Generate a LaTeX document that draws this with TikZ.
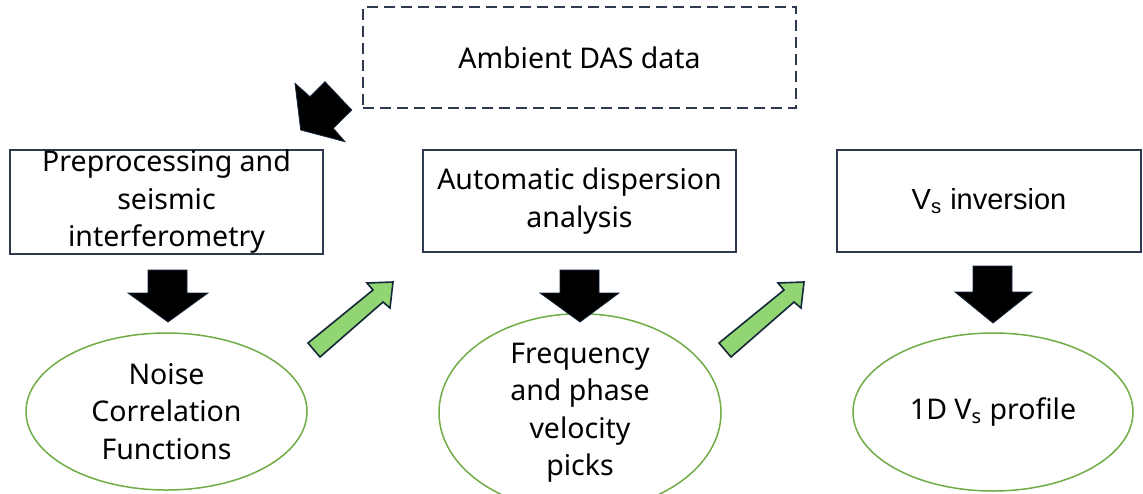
\documentclass[tikz,border=0pt]{standalone}
\usepackage{fontspec}
\setmainfont{Noto Sans}
\newfontfamily\arialfont{Liberation Sans}
\usetikzlibrary{shapes.geometric}
\definecolor{boxline}{RGB}{47,58,78}
\definecolor{ellgreen}{RGB}{112,173,71}
\definecolor{arrowgreen}{RGB}{146,214,115}
\definecolor{arrowline}{RGB}{20,38,58}
\tikzset{
  txt/.style={font=\fontsize{14.25}{18.75}\selectfont, align=center, inner sep=0pt},
  procbox/.style={txt, draw=boxline, line width=0.75pt, rectangle},
  dashbox/.style={txt, draw=boxline, line width=0.75pt, rectangle, dash pattern=on 5.5pt off 3pt},
  resell/.style={txt, draw=ellgreen, line width=0.75pt, ellipse},
  blkarrow/.style={fill=black, draw=arrowline, line width=0.4pt, line join=miter},
  grnarrow/.style={fill=arrowgreen, draw=arrowline, line width=0.8pt, line join=miter}
}
\begin{document}
\begin{tikzpicture}[x=0.5pt, y=-0.5pt]
\useasboundingbox (0,0) rectangle (1143,493);
\fill[white] (0,0) rectangle (1143,493);

% boxes
\node[dashbox, minimum width=216.5pt, minimum height=50.5pt] (das) at (579.5,57.5) {Ambient DAS data};
\node[procbox, minimum width=156.5pt, minimum height=52pt] (pre) at (166.5,202) {Preprocessing and\\seismic\\interferometry};
\node[procbox, minimum width=156.5pt, minimum height=51pt] (disp) at (579.5,201) {Automatic dispersion\\analysis};
\node[procbox, minimum width=152pt, minimum height=51pt, font=\arialfont\fontsize{14.5}{18}\selectfont] (inv) at (989,201) {V\textsubscript{s} inversion};

% ellipses
\node[resell, minimum width=140.5pt, minimum height=78.5pt] (ncf) at (166.5,411.5) {Noise\\Correlation\\Functions};
\node[resell, minimum width=141pt, minimum height=79.5pt] (pick) at (580,412.5) {Frequency\\and phase\\velocity\\picks};
\node[resell, minimum width=140pt, minimum height=79pt] (prof) at (993,412) {1D V\textsubscript{s} profile};

% diagonal black arrow (from DAS data to preprocessing)
\draw[blkarrow] (300.7,130) -- (295,83.3) -- (310,96.7) -- (325,81.7) -- (351.7,110) -- (333.3,128.3) -- (345,141.7) -- cycle;

% down arrows
\draw[blkarrow] (148,270) -- (187,270) -- (187,293) -- (208,293) -- (168,322) -- (128,293) -- (148,293) -- cycle;
\draw[blkarrow] (560,270) -- (599,270) -- (599,293) -- (619,293) -- (580,322) -- (540,293) -- (560,293) -- cycle;
\draw[blkarrow] (973,266) -- (1012,266) -- (1012,292) -- (1032,292) -- (993,323) -- (955,292) -- (973,292) -- cycle;

% green arrows
\draw[grnarrow] (308,343) -- (373,290) -- (367,283) -- (393,282) -- (390,308) -- (383,302) -- (320,357) -- cycle;
\draw[grnarrow, xshift=205.5pt] (308,343) -- (373,290) -- (367,283) -- (393,282) -- (390,308) -- (383,302) -- (320,357) -- cycle;
\end{tikzpicture}
\end{document}
